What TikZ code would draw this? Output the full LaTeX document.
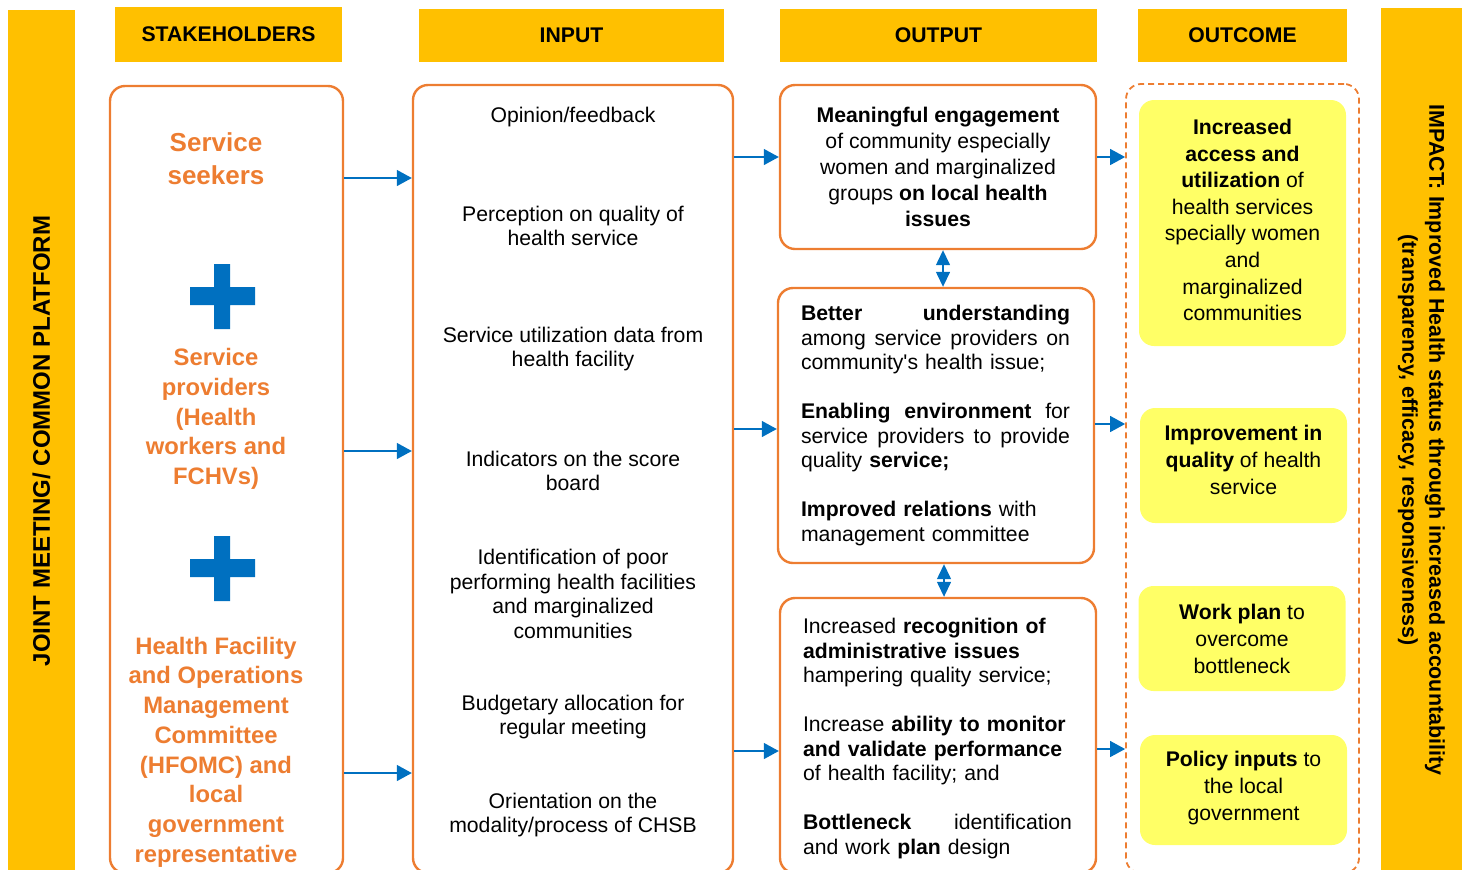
\documentclass[tikz,border=0pt]{standalone}
\usepackage{fontspec}
\setmainfont{Liberation Sans}
\usetikzlibrary{arrows.meta,positioning}
\definecolor{cHead}{HTML}{FFC000}
\definecolor{cOrange}{HTML}{ED7D31}
\definecolor{cBlue}{HTML}{0070C0}
\definecolor{cYellow}{HTML}{FFFF66}
\tikzstyle{bar}=[fill=cHead,inner sep=0pt]
\tikzstyle{head}=[fill=cHead,inner sep=0pt,minimum height=26.5pt,font=\bfseries\fontsize{10.6}{12.25}\selectfont]
\tikzstyle{frame}=[draw=cOrange,line width=1.2pt,rounded corners=7.5pt]
\tikzstyle{who}=[text=cOrange,align=center,font=\bfseries\fontsize{11.9}{14.85}\selectfont]
\tikzstyle{feed}=[align=center,font=\fontsize{10.6}{12.25}\selectfont]
\tikzstyle{res}=[frame,align=left,text width=135pt,font=\fontsize{10.6}{12.25}\selectfont]
\tikzstyle{goal}=[fill=cYellow,rounded corners=7.5pt,minimum width=103.5pt]
\tikzstyle{goaltext}=[align=center,font=\fontsize{10.6}{13.3}\selectfont]
\tikzstyle{post}=[-{Triangle[length=7.5pt,width=8pt]},draw=cBlue,fill=cBlue,line width=0.7pt]
\tikzstyle{both}=[{Triangle[length=7.5pt,width=7pt]}-{Triangle[length=7.5pt,width=7pt]},draw=cBlue,fill=cBlue,line width=0.7pt]
\newcommand\jline[1]{\makebox[134.5pt][s]{\spaceskip=0pt\xspaceskip=0pt #1}}

\begin{document}
\begin{tikzpicture}[x=0.5pt,y=-0.5pt]
        \useasboundingbox (0,0) rectangle (1470,869);
        \node (JM) [bar, rotate=90, minimum width=431pt, minimum height=33.5pt, font=\bfseries\fontsize{12}{14}\selectfont] at (41.5,441) {JOINT MEETING/ COMMON PLATFORM};
        \node (IM) [bar, rotate=-90, minimum width=432pt, minimum height=40.5pt, align=center, font=\bfseries\fontsize{10.7}{13.5}\selectfont] at (1421.5,440) {IMPACT: Improved Health status through increased accountability\\(transparency, efficacy, responsiveness)};

        \node (HS) [head, minimum width=113.5pt, minimum height=27.5pt] at (228.5,34.5) {STAKEHOLDERS};
        \node (HI) [head, minimum width=152.5pt] at (571.5,35.5) {INPUT};
        \node (HO) [head, minimum width=158.5pt] at (938.5,35.5) {OUTPUT};
        \node (HC) [head, minimum width=104.5pt] at (1242.5,35.5) {OUTCOME};

        \node (S) [frame, minimum width=116.5pt, minimum height=393.5pt] at (226.5,479.5) {};
        \node (I) [frame, minimum width=160pt, minimum height=394pt] at (573,479) {};
        \node (D) [frame, dashed, dash pattern=on 3pt off 2pt, line width=0.9pt, minimum width=116.5pt, minimum height=394.5pt] at (1242.5,478.5) {};

        \node (S1) [who, font=\bfseries\fontsize{13}{16.5}\selectfont] at (216,159) {Service\\seekers};
        \node (S2) [who] at (216,419) {Service\\providers\\(Health\\workers and\\FCHVs)};
        \node (S3) [who] at (216,752) {Health Facility\\and Operations\\Management\\Committee\\(HFOMC) and\\local\\government\\representative};
        \foreach \py in {296,568}
            \fill[cBlue] (214,\py-32) rectangle (230,\py+33) (190,\py-9) rectangle (255,\py+9);

        \node (I1) [feed] at (573,117) {Opinion/feedback};
        \node (I2) [feed] at (573,226) {Perception on quality of\\health service};
        \node (I3) [feed] at (573,349) {Service utilization data from\\health facility};
        \node (I4) [feed] at (573,471) {Indicators on the score\\board};
        \node (I5) [feed] at (573,594) {Identification of poor\\performing health facilities\\and marginalized\\communities};
        \node (I6) [feed] at (573,717) {Budgetary allocation for\\regular meeting};
        \node (I7) [feed] at (573,815) {Orientation on the\\modality/process of CHSB};

        \node (O1) [frame, align=center, minimum width=158pt, minimum height=82pt, font=\fontsize{10.6}{13}\selectfont] at (938,167) {\textbf{Meaningful engagement}\\of community especially\\women and marginalized\\groups \textbf{on local health}\\\textbf{issues}};
        \node (O2) [res, minimum width=158pt, minimum height=137.5pt] at (936,425.5) {\jline{\textbf{Better understanding}}\\\jline{among service providers on}\\community\textquotesingle s health issue;\\[12.25pt]\jline{\textbf{Enabling environment} for}\\\jline{service providers to provide}\\quality \textbf{service;}\\[12.25pt]\textbf{Improved relations} with\\management committee};
        \node (O3) [frame, minimum width=158pt, minimum height=137.5pt] at (938,735.5) {};
        \node (o3) [res, draw=none] at (938,738.5) {Increased \textbf{recognition of}\\\textbf{administrative issues}\\hampering quality service;\\[12.25pt]Increase \textbf{ability to monitor}\\\textbf{and validate performance}\\of health facility; and\\[12.25pt]\jline{\textbf{Bottleneck} identification}\\and work \textbf{plan} design};

        \node (G1) [goal, minimum height=123pt] at (1242.5,223) {};
        \node (g1) [goaltext] at (1242.5,220) {\textbf{Increased}\\\textbf{access and}\\\textbf{utilization} of\\health services\\specially women\\and\\marginalized\\communities};
        \node (G2) [goal, minimum height=57.5pt] at (1243.5,465.5) {};
        \node (g2) [goaltext] at (1243.5,460) {\textbf{Improvement in}\\\textbf{quality} of health\\service};
        \node (G3) [goal, minimum height=52.5pt] at (1242,638.5) {};
        \node (g3) [goaltext] at (1242,639) {\textbf{Work plan} to\\overcome\\bottleneck};
        \node (G4) [goal, minimum height=55pt] at (1243.5,790) {};
        \node (g4) [goaltext] at (1243.5,788) {\textbf{Policy inputs} to\\the local\\government};

        \foreach \ay in {178,451,773}
            \draw[post] (S.east |- 0,\ay) -- (I.west |- 0,\ay);
        \draw[post] (I.east |- 0,157) -- (O1.west |- 0,157);
        \draw[post] (I.east |- 0,429) -- (O2.west |- 0,429);
        \draw[post] (I.east |- 0,751) -- (O3.west |- 0,751);
        \draw[post] (O1.east |- 0,157) -- (D.west |- 0,157);
        \draw[post] (O2.east |- 0,424) -- (D.west |- 0,424);
        \draw[post] (O3.east |- 0,749) -- (D.west |- 0,749);
        \draw[both] (O1.south -| 943,0) -- (O2.north -| 943,0);
        \draw[both] (O2.south -| 944,0) -- (O3.north -| 944,0);
\end{tikzpicture}
\end{document}
